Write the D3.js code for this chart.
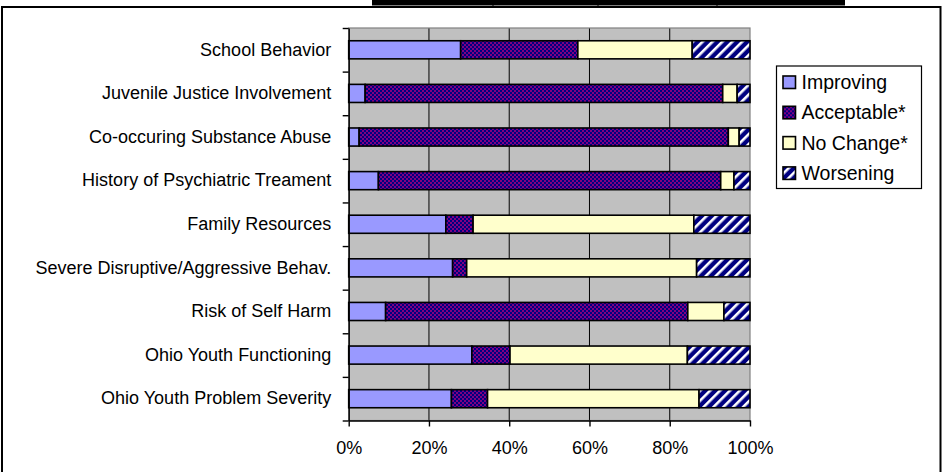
<!DOCTYPE html>
<html>
<head>
<meta charset="utf-8">
<script src="https://cdn.jsdelivr.net/npm/d3@7/dist/d3.min.js"></script>
<style>
  html, body { margin: 0; padding: 0; background: #fff; }
  svg { display: block; font-family: "Liberation Sans", Arial, sans-serif; }
</style>
</head>
<body>
<svg id="chart" width="943" height="472"></svg>
<script>
// Outcome domains, top to bottom
const categories = [
  "School Behavior",
  "Juvenile Justice Involvement",
  "Co-occuring Substance Abuse",
  "History of Psychiatric Treament",
  "Family Resources",
  "Severe Disruptive/Aggressive Behav.",
  "Risk of Self Harm",
  "Ohio Youth Functioning",
  "Ohio Youth Problem Severity"
];

// Series names (legend order = stacking order)
const seriesNames = ["Improving", "Acceptable*", "No Change*", "Worsening"];

// Percent of youth in each outcome group, per domain
const improving  = [27.9,  4.1,  2.6,  7.4, 24.2, 25.9,  9.2, 30.7, 25.6];
const acceptable = [29.2, 89.1, 92.0, 85.3,  6.8,  3.5, 75.3,  9.5,  9.0];
const noChange   = [28.5,  3.6,  2.7,  3.3, 55.0, 57.3,  9.0, 44.2, 52.7];
const worsening  = [14.4,  3.2,  2.7,  4.0, 14.0, 13.3,  6.5, 15.6, 12.7];

// X axis tick values (percent)
const xTicks = [0, 20, 40, 60, 80, 100];

const svg = d3.select("#chart");

// ---- fill patterns ----
const defs = svg.append("defs");

// Checkerboard of purple and navy
const chk = defs.append("pattern")
  .attr("id", "pat-acceptable")
  .attr("patternUnits", "userSpaceOnUse")
  .attr("width", 4).attr("height", 4);
chk.append("rect").attr("width", 4).attr("height", 4).attr("fill", "#000080");
chk.append("rect").attr("x", 0).attr("y", 0).attr("width", 2).attr("height", 2).attr("fill", "#800080");
chk.append("rect").attr("x", 2).attr("y", 2).attr("width", 2).attr("height", 2).attr("fill", "#800080");

// Wide upward diagonal: white stripes on navy
const diag = defs.append("pattern")
  .attr("id", "pat-worsening")
  .attr("patternUnits", "userSpaceOnUse")
  .attr("width", 7).attr("height", 7)
  .attr("patternTransform", "rotate(45)");
diag.append("rect").attr("width", 7).attr("height", 7).attr("fill", "#000080");
diag.append("rect").attr("x", 0).attr("y", 0).attr("width", 2.6).attr("height", 7).attr("fill", "#ffffff");

const fills = ["#9999FF", "url(#pat-acceptable)", "#FFFFCC", "url(#pat-worsening)"];

// ---- outer frame and table edge above the chart ----
svg.append("rect")
  .attr("x", 2).attr("y", 7).attr("width", 938.5).attr("height", 480)
  .attr("fill", "#fff").attr("stroke", "#000").attr("stroke-width", 2);
svg.append("rect")
  .attr("x", 2).attr("y", 6).attr("width", 939).attr("height", 2)
  .attr("fill", "#000");
svg.append("rect")
  .attr("x", 372).attr("y", 0).attr("width", 473).attr("height", 5.5)
  .attr("fill", "#000");
[493, 598, 717].forEach(xv => {
  svg.append("line")
    .attr("x1", xv).attr("x2", xv).attr("y1", 5).attr("y2", 7)
    .attr("stroke", "#000").attr("stroke-width", 1);
});

// ---- scales ----
const plot = { left: 348.7, right: 750, top: 28, bottom: 420.5 };

const x = d3.scaleLinear().domain([0, 100]).range([plot.left, plot.right]);
const y = d3.scaleBand()
  .domain(categories)
  .range([plot.top, plot.bottom])
  .paddingInner(0.585)
  .paddingOuter(0.2925);
const yBound = d3.scaleLinear().domain([0, categories.length]).range([plot.top, plot.bottom]);

// ---- plot background, gridlines ----
svg.append("rect")
  .attr("x", plot.left).attr("y", plot.top)
  .attr("width", plot.right - plot.left).attr("height", plot.bottom - plot.top)
  .attr("fill", "#C0C0C0");

svg.append("g")
  .selectAll("line")
  .data(xTicks.filter(t => t > 0 && t < 100))
  .join("line")
  .attr("x1", d => x(d)).attr("x2", d => x(d))
  .attr("y1", plot.top).attr("y2", plot.bottom)
  .attr("stroke", "#000").attr("stroke-width", 1);

svg.append("rect")
  .attr("x", plot.left).attr("y", plot.top)
  .attr("width", plot.right - plot.left).attr("height", plot.bottom - plot.top)
  .attr("fill", "none").attr("stroke", "#808080").attr("stroke-width", 1.2);

// ---- stacked bars ----
const rows = categories.map((c, i) => ({
  category: c,
  "Improving": improving[i],
  "Acceptable*": acceptable[i],
  "No Change*": noChange[i],
  "Worsening": worsening[i]
}));
const stacked = d3.stack().keys(seriesNames)(rows);

svg.append("g")
  .selectAll("g")
  .data(stacked)
  .join("g")
  .attr("fill", (d, i) => fills[i])
  .selectAll("rect")
  .data(d => d)
  .join("rect")
  .attr("x", d => x(d[0]))
  .attr("y", d => y(d.data.category))
  .attr("width", d => x(d[1]) - x(d[0]))
  .attr("height", y.bandwidth())
  .attr("stroke", "#000")
  .attr("stroke-width", 1.6);

// ---- axes ----
const yAxisG = svg.append("g")
  .attr("transform", `translate(${plot.left},0)`)
  .call(d3.axisLeft(y).tickSize(0).tickPadding(17.5));
yAxisG.select(".domain").remove();
yAxisG.selectAll("text")
  .attr("font-size", 18)
  .attr("font-family", "Liberation Sans, Arial, sans-serif")
  .attr("fill", "#000");

const yTickG = svg.append("g")
  .attr("transform", `translate(${plot.left},0)`)
  .call(d3.axisLeft(yBound)
    .tickValues(d3.range(0, categories.length + 1))
    .tickSize(6).tickSizeOuter(0)
    .tickFormat(""));
yTickG.selectAll("line, path").attr("stroke", "#000").attr("stroke-width", 1.4);

const xAxisG = svg.append("g")
  .attr("transform", `translate(0,${plot.bottom})`)
  .call(d3.axisBottom(x)
    .tickValues(xTicks)
    .tickSize(6).tickSizeOuter(0)
    .tickPadding(14.5)
    .tickFormat(d => d + "%"));
xAxisG.selectAll("line, path").attr("stroke", "#000").attr("stroke-width", 1.4);
xAxisG.selectAll("text")
  .attr("font-size", 18)
  .attr("font-family", "Liberation Sans, Arial, sans-serif")
  .attr("fill", "#000");

// ---- legend ----
const legend = svg.append("g");
legend.append("rect")
  .attr("x", 776.5).attr("y", 66)
  .attr("width", 145).attr("height", 122.5)
  .attr("fill", "#fff").attr("stroke", "#000").attr("stroke-width", 1.2);

const legendRow = d3.scaleLinear().domain([0, 3]).range([82, 172.9]);
const items = legend.selectAll("g.item")
  .data(seriesNames)
  .join("g")
  .attr("class", "item")
  .attr("transform", (d, i) => `translate(0,${legendRow(i)})`);
items.append("rect")
  .attr("x", 783).attr("y", -6)
  .attr("width", 12.5).attr("height", 12.5)
  .attr("fill", (d, i) => fills[i])
  .attr("stroke", "#000").attr("stroke-width", 1.6);
items.append("text")
  .attr("x", 801.5).attr("y", 7)
  .attr("font-size", 19.5)
  .attr("fill", "#000")
  .text(d => d);
</script>
</body>
</html>
